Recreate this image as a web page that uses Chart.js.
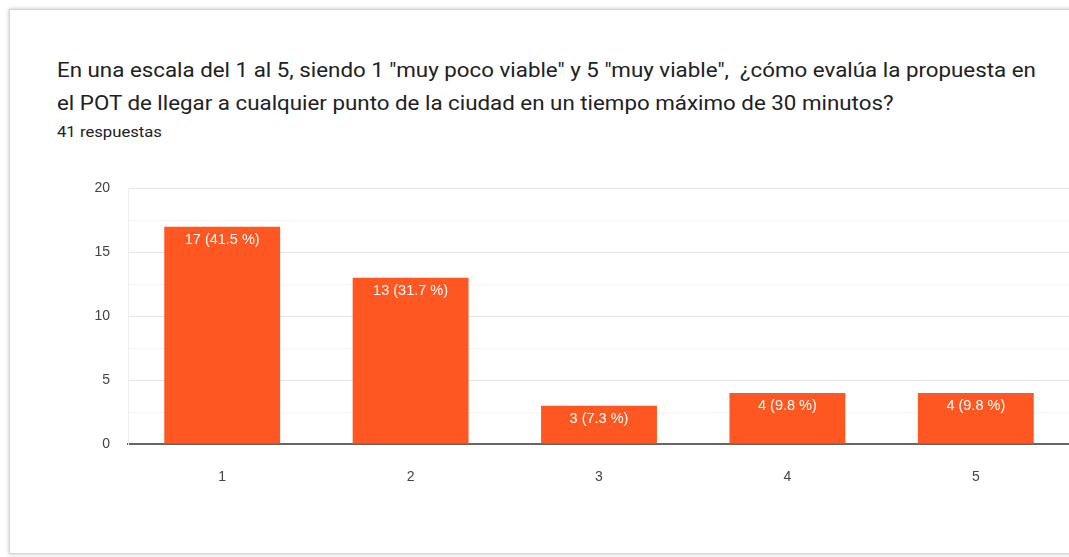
<!DOCTYPE html>
<html>
<head>
<meta charset="utf-8">
<script src="https://cdn.jsdelivr.net/npm/chart.js@4/dist/chart.umd.min.js"></script>
<style>
  html, body { margin: 0; padding: 0; background: #fff; }
  body { width: 1069px; height: 557px; position: relative; overflow: hidden; }
  .card {
    position: absolute; left: 9px; top: 9px; width: 1080px; height: 543px;
    background: #fff; border: 1px solid #d6d6d6;
    box-shadow: 0 0 4px rgba(0,0,0,.25);
  }
  .title {
    position: absolute; left: 57px; top: 54px; width: 1000px;
    font-family: Roboto, "Liberation Sans", Arial, sans-serif;
    font-size: 19.5px; line-height: 33px; color: #202124;
    transform: scaleX(1.145); transform-origin: left top; white-space: nowrap;
  }
  .sub {
    position: absolute; left: 57px; top: 124px;
    font-family: Roboto, "Liberation Sans", Arial, sans-serif;
    font-size: 14.5px; color: #202124;
    transform: scaleX(1.15); transform-origin: left top;
  }
  #wrap { position: absolute; left: 60px; top: 162px; width: 1010px; height: 322px; }
</style>
</head>
<body>
<div class="card"></div>
<div class="title">En una escala del 1 al 5, siendo 1 "muy poco viable" y 5 "muy viable", &nbsp;¿cómo evalúa la propuesta en<br>el POT de llegar a cualquier punto de la ciudad en un tiempo máximo de 30 minutos?</div>
<div class="sub">41 respuestas</div>
<div id="wrap"><canvas id="chart"></canvas></div>
<script>
/* ── data ─────────────────────────────────────── */
const CATEGORIES = ['1', '2', '3', '4', '5'];
const COUNTS     = [17, 13, 3, 4, 4];
const PERCENTS   = ['41.5', '31.7', '7.3', '9.8', '9.8'];
const Y_TICKS    = [0, 5, 10, 15, 20];

const BAR_COLOR = '#ff5722';
const FONT = '"Liberation Sans", Arial, sans-serif';

/* labels drawn inside the top of each bar */
const barLabels = {
  id: 'barLabels',
  afterDatasetsDraw(chart) {
    const ctx = chart.ctx;
    const meta = chart.getDatasetMeta(0);
    ctx.save();
    ctx.font = '14.5px ' + FONT;
    ctx.fillStyle = '#fff';
    ctx.textAlign = 'center';
    ctx.textBaseline = 'middle';
    meta.data.forEach((bar, i) => {
      ctx.fillText(COUNTS[i] + ' (' + PERCENTS[i] + ' %)', bar.x, bar.y + 13);
    });
    ctx.restore();
  }
};

new Chart(document.getElementById('chart'), {
  type: 'bar',
  data: {
    labels: CATEGORIES,
    datasets: [{
      data: COUNTS,
      backgroundColor: BAR_COLOR,
      borderWidth: 0,
      barPercentage: 0.615,
      categoryPercentage: 1,
    }],
  },
  options: {
    responsive: true,
    maintainAspectRatio: false,
    animation: false,
    layout: { padding: { top: 10, right: 0, left: 0, bottom: 0 } },
    plugins: { legend: { display: false }, tooltip: { enabled: false } },
    scales: {
      x: {
        grid: { display: false },
        border: { color: '#666', width: 2 },
        ticks: { color: '#444', font: { family: FONT, size: 14 }, padding: 17 },
        afterFit(s) { s.height = 40; },
      },
      y: {
        min: 0, max: 20,
        afterBuildTicks(s) {
          const t = [];
          for (let v = 0; v <= 20; v += 2.5) t.push({ value: v });
          s.ticks = t;
        },
        grid: {
          drawTicks: false,
          color: c => c.tick.value === 0 ? 'rgba(0,0,0,0)' : (Y_TICKS.includes(c.tick.value) ? '#e6e6e6' : '#f3f3f3'),
        },
        border: { color: '#eeeeee' },
        ticks: {
          color: '#444', font: { family: FONT, size: 14 }, padding: 18,
          callback: v => Y_TICKS.includes(v) ? v : '',
        },
        afterFit(s) { s.width = 68; },
      },
    },
  },
  plugins: [barLabels],
});
</script>
</body>
</html>
